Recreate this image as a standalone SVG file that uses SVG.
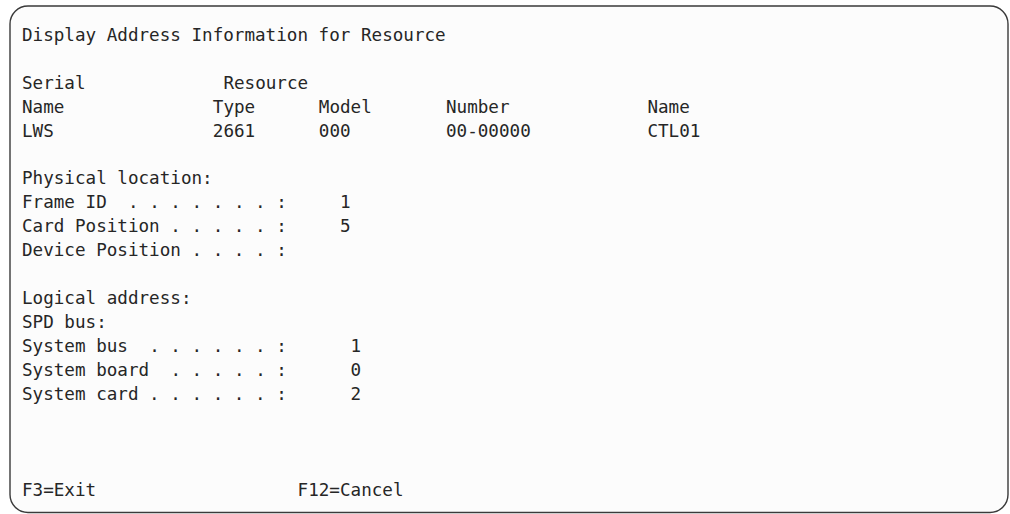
<svg xmlns="http://www.w3.org/2000/svg" width="1010" height="514" viewBox="0 0 1010 514">
<style>
.t{font-family:"DejaVu Sans Mono","Liberation Mono",monospace;font-size:17.6px;fill:#262626;white-space:pre}
</style>
<rect x="0" y="0" width="1010" height="514" fill="#ffffff"/>
<g id="screen">
<rect x="10" y="6" width="998" height="506.5" rx="18" ry="18" fill="#fcfcfc" stroke="#3a3a3a" stroke-width="1.4"/>
</g>
<g id="texts" class="t">
<text class="t" x="22" y="40.7">Display Address Information for Resource</text>
<text class="t" x="22" y="88.6">Serial</text>
<text class="t" x="223.4" y="88.6">Resource</text>
<text class="t" x="22" y="112.55">Name</text>
<text class="t" x="212.8" y="112.55">Type</text>
<text class="t" x="318.8" y="112.55">Model</text>
<text class="t" x="446" y="112.55">Number</text>
<text class="t" x="647.4" y="112.55">Name</text>
<text class="t" x="22" y="136.5">LWS</text>
<text class="t" x="212.8" y="136.5">2661</text>
<text class="t" x="318.8" y="136.5">000</text>
<text class="t" x="446" y="136.5">00-00000</text>
<text class="t" x="647.4" y="136.5">CTL01</text>
<text class="t" x="22" y="184.4">Physical location:</text>
<text class="t" x="22" y="208.35">Frame ID</text>
<text class="t" x="128" y="208.35">. . . . . . . :</text>
<text class="t" x="340" y="208.35">1</text>
<text class="t" x="22" y="232.3">Card Position . . . . . :</text>
<text class="t" x="340" y="232.3">5</text>
<text class="t" x="22" y="256.25">Device Position . . . . :</text>
<text class="t" x="22" y="304.15">Logical address:</text>
<text class="t" x="22" y="328.1">SPD bus:</text>
<text class="t" x="22" y="352.05">System bus</text>
<text class="t" x="149.2" y="352.05">. . . . . . :</text>
<text class="t" x="350.6" y="352.05">1</text>
<text class="t" x="22" y="376">System board</text>
<text class="t" x="170.4" y="376">. . . . . :</text>
<text class="t" x="350.6" y="376">0</text>
<text class="t" x="22" y="399.95">System card . . . . . . :</text>
<text class="t" x="350.6" y="399.95">2</text>
<text class="t" x="22" y="495.75">F3=Exit</text>
<text class="t" x="297.6" y="495.75">F12=Cancel</text>
</g>
</svg>
